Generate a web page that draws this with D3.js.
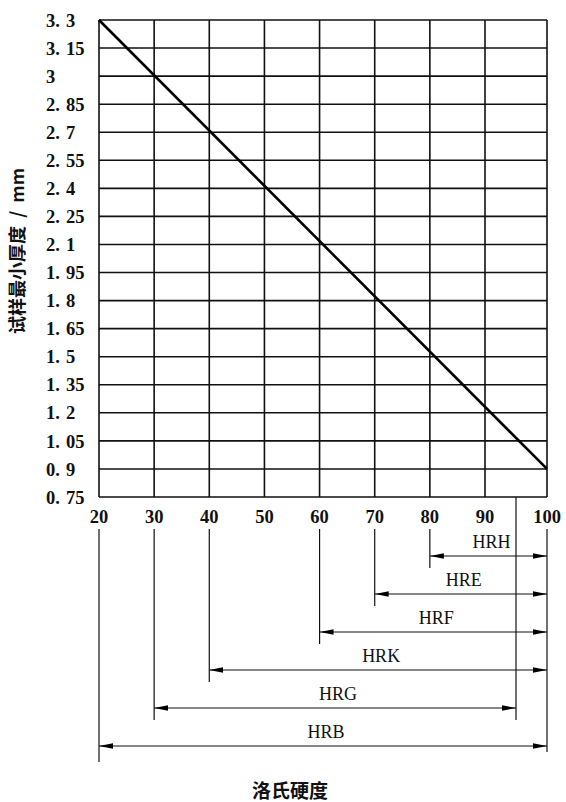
<!DOCTYPE html>
<html>
<head>
<meta charset="utf-8">
<script src="https://cdn.jsdelivr.net/npm/d3@7"></script>
<style>
  body { margin: 0; background: #fff; }
  svg { display: block; }
</style>
</head>
<body>
<script>
// hardness grid (x) and minimum thickness grid (y)
var xTicks = [20, 30, 40, 50, 60, 70, 80, 90, 100];
var yTicks = [0.75, 0.9, 1.05, 1.2, 1.35, 1.5, 1.65, 1.8, 1.95, 2.1, 2.25, 2.4, 2.55, 2.7, 2.85, 3, 3.15, 3.3];

// the thickness line
var lineHardness = [20, 100];
var lineThickness = [3.3, 0.9];

// rockwell scales and their usable ranges
var scaleNames = ['HRH', 'HRE', 'HRF', 'HRK', 'HRG', 'HRB'];
var rangeFrom = [80, 70, 60, 40, 30, 20];
var rangeTo = [100, 100, 100, 100, 95, 100];

var W = 566, H = 802;
var plot = {left: 99, right: 547, top: 20, bottom: 497};

// the scanned grid is a little uneven: the last column is wider
var xScale = d3.scaleLinear()
    .domain([20, 90, 100])
    .range([plot.left, 485, plot.right]);

var yScale = d3.scaleLinear()
    .domain([0.75, 3.3])
    .range([plot.bottom, plot.top]);

var rowY = d3.scaleLinear()
    .domain([0, 1])
    .range([556, 594]);

var svg = d3.select('body')
    .append('svg')
    .attr('width', W)
    .attr('height', H);

var defs = svg.append('defs');
defs.append('marker')
    .attr('id', 'head')
    .attr('markerUnits', 'userSpaceOnUse')
    .attr('markerWidth', 14)
    .attr('markerHeight', 8)
    .attr('viewBox', '0 -4 14 8')
    .attr('refX', 14)
    .attr('refY', 0)
    .attr('orient', 'auto-start-reverse')
    .append('path')
    .attr('d', 'M0,-2.8L14,0L0,2.8Z')
    .attr('fill', '#000');

// grid
svg.append('g')
    .selectAll('line')
    .data(yTicks)
    .enter()
    .append('line')
    .attr('x1', plot.left)
    .attr('x2', plot.right)
    .attr('y1', function(d) { return yScale(d); })
    .attr('y2', function(d) { return yScale(d); })
    .style('stroke', '#111')
    .style('stroke-width', 1.6);

svg.append('g')
    .selectAll('line')
    .data(xTicks)
    .enter()
    .append('line')
    .attr('x1', function(d) { return xScale(d); })
    .attr('x2', function(d) { return xScale(d); })
    .attr('y1', plot.top)
    .attr('y2', plot.bottom)
    .style('stroke', '#111')
    .style('stroke-width', 1.6);

// y tick labels, left aligned, with the gap after the point
var yLab = svg.append('g')
    .selectAll('text')
    .data(yTicks)
    .enter()
    .append('text')
    .attr('x', 46)
    .attr('y', function(d) { return yScale(d); })
    .attr('dy', '0.36em')
    .style('font-family', '"Liberation Serif", serif')
    .style('font-weight', 'bold')
    .style('font-size', '18.5px')
    .style('fill', '#111');

yLab.each(function(d) {
    var s = String(d).split('.');
    var t = d3.select(this);
    if (s.length == 1) {
        t.text(s[0]);
    } else {
        t.append('tspan').text(s[0] + '.');
        t.append('tspan').attr('dx', 6).text(s[1]);
    }
});

// x tick labels
svg.append('g')
    .selectAll('text')
    .data(xTicks)
    .enter()
    .append('text')
    .attr('x', function(d) { return xScale(d); })
    .attr('y', 523)
    .attr('text-anchor', 'middle')
    .style('font-family', '"Liberation Serif", serif')
    .style('font-weight', 'bold')
    .style('font-size', '18.5px')
    .style('fill', '#111')
    .text(function(d) { return d; });

// the diagonal
var line = d3.line()
    .x(function(d) { return xScale(d[0]); })
    .y(function(d) { return yScale(d[1]); });

svg.append('path')
    .datum(d3.zip(lineHardness, lineThickness))
    .attr('d', line)
    .style('fill', 'none')
    .style('stroke', '#000')
    .style('stroke-width', 2.6);

// range rows
var rows = scaleNames.map(function(name, i) {
    return {name: name, from: rangeFrom[i], to: rangeTo[i], y: rowY(i)};
});

// extension lines below the axis, one per distinct range end
var ends = {};
rows.forEach(function(r) {
    [r.from, r.to].forEach(function(v) {
        var low = r.y + (v == 100 ? 6 : 12);
        if (!(v in ends) || ends[v] < low) ends[v] = low;
    });
});
svg.append('g')
    .selectAll('line')
    .data(Object.keys(ends).map(Number))
    .enter()
    .append('line')
    .attr('x1', function(d) { return xScale(d); })
    .attr('x2', function(d) { return xScale(d); })
    .attr('y1', function(d) { return xTicks.indexOf(d) < 0 ? plot.bottom : 529; })
    .attr('y2', function(d) { return ends[d] + (d == 20 ? 4 : 0); })
    .style('stroke', '#111')
    .style('stroke-width', 1.2);

var row = svg.append('g')
    .selectAll('g')
    .data(rows)
    .enter()
    .append('g');

row.append('line')
    .attr('x1', function(d) { return xScale(d.from); })
    .attr('x2', function(d) { return xScale(d.to); })
    .attr('y1', function(d) { return d.y; })
    .attr('y2', function(d) { return d.y; })
    .attr('marker-start', 'url(#head)')
    .attr('marker-end', 'url(#head)')
    .style('stroke', '#111')
    .style('stroke-width', 1.1);

row.append('text')
    .attr('x', function(d) { return (xScale(d.from) + xScale(d.to)) / 2 + 3; })
    .attr('y', function(d) { return d.y - 8; })
    .attr('text-anchor', 'middle')
    .style('font-family', '"Liberation Serif", serif')
    .style('font-size', '18px')
    .style('fill', '#111')
    .text(function(d) { return d.name; });

// axis titles
svg.append('text')
    .attr('transform', 'translate(18,' + 251 + ') rotate(-90)')
    .attr('text-anchor', 'middle')
    .attr('dy', '0.35em')
    .style('font-family', '"Noto Sans CJK SC", sans-serif')
    .style('font-weight', 'bold')
    .style('font-size', '18px')
    .style('white-space', 'pre')
    .style('fill', '#111')
    .text('试样最小厚度  /  mm');

svg.append('text')
    .attr('x', 290)
    .attr('y', 798)
    .attr('text-anchor', 'middle')
    .style('font-family', '"Noto Sans CJK SC", sans-serif')
    .style('font-weight', 'bold')
    .style('font-size', '19px')
    .style('fill', '#111')
    .text('洛氏硬度');
</script>
</body>
</html>
